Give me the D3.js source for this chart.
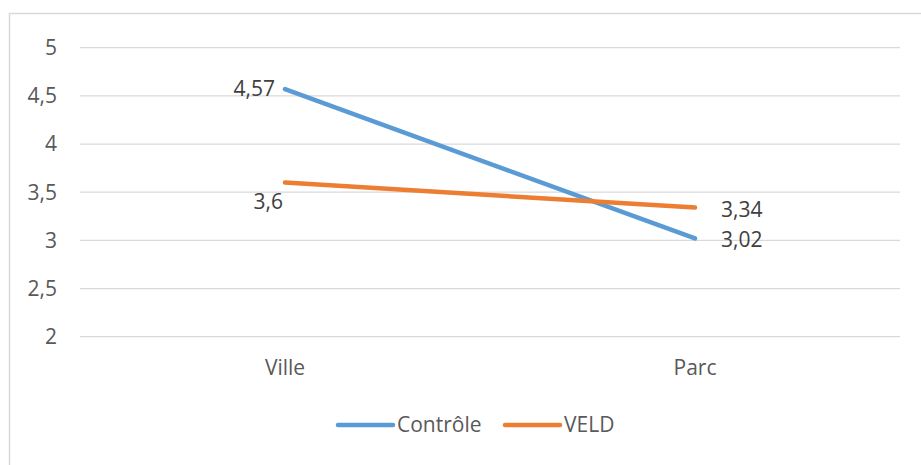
<!DOCTYPE html>
<html>
<head>
<meta charset="utf-8">
<script src="https://cdn.jsdelivr.net/npm/d3@7"></script>
<style>
  body { margin: 0; background: #fff; }
  svg { display: block; font-family: "Open Sans", sans-serif; }
</style>
</head>
<body>
<script>
const categories = ["Ville", "Parc"];
const controle = [4.57, 3.02];
const veld = [3.6, 3.34];
const yTicks = [2, 2.5, 3, 3.5, 4, 4.5, 5];

const width = 921, height = 465;
const svg = d3.select("body").append("svg")
  .attr("width", width).attr("height", height);

// chart border (runs off right/bottom edge)
svg.append("rect")
  .attr("x", 9.5).attr("y", 13.5)
  .attr("width", 1000).attr("height", 1000)
  .attr("fill", "none").attr("stroke", "#d9d9d9").attr("stroke-width", 1.5);

const x = d3.scalePoint().domain(categories).range([80, 900]).padding(0.5);
const y = d3.scaleLinear().domain([2, 5]).range([336.7, 47.7]);

const fmt = v => String(v).replace(".", ",");

// gridlines
svg.append("g").selectAll("line").data(yTicks).join("line")
  .attr("x1", 80).attr("x2", 900)
  .attr("y1", d => y(d)).attr("y2", d => y(d))
  .attr("stroke", "#d9d9d9").attr("stroke-width", 1.3);

// y tick labels
svg.append("g").selectAll("text").data(yTicks).join("text")
  .attr("x", 57).attr("y", d => y(d))
  .attr("dy", "0.35em")
  .attr("text-anchor", "end")
  .attr("fill", "#595959").style("font-size", "21px")
  .text(fmt);

// x labels
svg.append("g").selectAll("text").data(categories).join("text")
  .attr("x", d => x(d)).attr("y", 368)
  .attr("dy", "0.35em")
  .attr("text-anchor", "middle")
  .attr("fill", "#595959").style("font-size", "21px")
  .text(d => d);

const series = [
  { name: "Contrôle", values: controle, color: "#5b9bd5" },
  { name: "VELD", values: veld, color: "#ed7d31" }
];

const line = d3.line()
  .x((d, i) => x(categories[i]))
  .y(d => y(d));

series.forEach(s => {
  svg.append("path")
    .attr("d", line(s.values))
    .attr("fill", "none")
    .attr("stroke", s.color)
    .attr("stroke-width", 4.5)
    .attr("stroke-linecap", "round");
});

// data labels: Ville on the left, Parc on the right
const labelPos = [
  [{ dx: -10, dy: 0, anchor: "end" }, { dx: 26, dy: 1, anchor: "start" }],
  [{ dx: -2, dy: 19, anchor: "end" }, { dx: 26, dy: 2, anchor: "start" }]
];
series.forEach((s, si) => {
  s.values.forEach((v, i) => {
    const p = labelPos[si][i];
    svg.append("text")
      .attr("x", x(categories[i]) + p.dx)
      .attr("y", y(v) + p.dy)
      .attr("dy", "0.35em")
      .attr("text-anchor", p.anchor)
      .attr("fill", "#404040").style("font-size", "21px")
      .text(fmt(v));
  });
});

// legend
const legendX = [338, 505];
series.forEach((s, i) => {
  const g = svg.append("g").attr("transform", `translate(${legendX[i]},425)`);
  g.append("line")
    .attr("x1", 0).attr("x2", 55)
    .attr("stroke", s.color).attr("stroke-width", 4.5)
    .attr("stroke-linecap", "round");
  g.append("text")
    .attr("x", 59).attr("y", 0).attr("dy", "0.35em")
    .attr("fill", "#595959").style("font-size", "21px")
    .text(s.name);
});
</script>
</body>
</html>
